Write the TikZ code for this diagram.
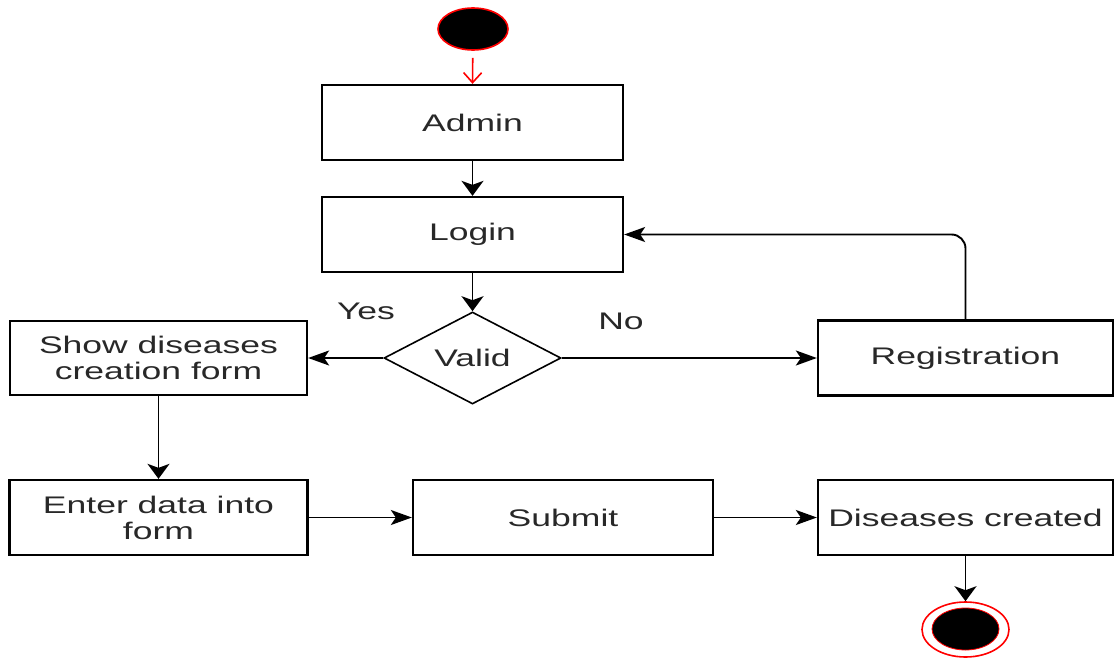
\documentclass[tikz,border=0pt]{standalone}
\usepackage{fontspec}
\setmainfont{Liberation Sans}[FakeStretch=1.48]
\usetikzlibrary{arrows.meta,shapes.geometric}
\definecolor{txt}{RGB}{40,40,40}
\definecolor{umlred}{RGB}{255,0,0}
\tikzset{
  box/.style={draw, line width=2.3pt, inner sep=0pt, align=center,
    text=txt, font=\fontsize{24}{26}\selectfont},
  lbl/.style={text=txt, font=\fontsize{24}{26}\selectfont, inner sep=0pt},
  harrow/.style={line width=1.9pt, -{Stealth[length=21pt, width=15pt, inset=5pt]}},
  varrow/.style={line width=1.9pt, -{Stealth[length=15pt, width=22pt, inset=4pt]}},
}
\begin{document}
\begin{tikzpicture}[x=1pt, y=-1pt]
\useasboundingbox (0,0) rectangle (1115,658);
% start
\node[ellipse, draw=umlred, fill=black, line width=1.6pt, minimum width=70pt, minimum height=42pt, inner sep=0pt] (start) at (473,29) {};
% boxes
\node[box, minimum width=301pt, minimum height=75pt] (admin) at (472.5,122.5) {Admin};
\node[box, minimum width=301pt, minimum height=75pt] (login) at (472.5,234.5) {Login};
\node[diamond, draw, line width=1.6pt, inner sep=0pt, aspect=1.9, minimum width=177pt, minimum height=92pt, text=txt, font=\fontsize{24}{26}\selectfont] (valid) at (472.5,358) {Valid};
\node[box, minimum width=297pt, minimum height=74pt] (show) at (158.5,358) {Show diseases\\creation form};
\node[box, minimum width=295pt, minimum height=75pt] (reg) at (965.5,358) {Registration};
\node[box, minimum width=298pt, minimum height=75pt] (enter) at (158.5,517.5) {Enter data into\\form};
\node[box, minimum width=300pt, minimum height=75pt] (submit) at (563,517.5) {Submit};
\node[box, minimum width=295pt, minimum height=75pt] (created) at (965.5,517.5) {Diseases created};
% end
\node[ellipse, draw=umlred, line width=1.6pt, minimum width=87pt, minimum height=55pt, inner sep=0pt] (endout) at (965.5,629.5) {};
\node[ellipse, draw=umlred, fill=black, line width=0.8pt, minimum width=67pt, minimum height=42pt, inner sep=0pt] (endin) at (965.5,629) {};
% labels
\node[lbl] (yes) at (366,311) {Yes};
\node[lbl] (no) at (621,321) {No};
% connectors
\draw[umlred, line width=1.6pt, shorten <=7pt, -{Straight Barb[length=10pt, width=18pt]}] (start) -- (admin.north);
\draw[varrow] (admin) -- (login);
\draw[varrow] (login) -- (valid.north);
\draw[harrow] (valid.west) -- (show.east);
\draw[harrow] (valid.east) -- (reg.west);
\draw[harrow, rounded corners=14pt] (reg.north) |- (login.east);
\draw[varrow] (show) -- (enter);
\draw[harrow] (enter) -- (submit);
\draw[harrow] (submit) -- (created);
\draw[varrow] (created) -- (endout.north);
\end{tikzpicture}
\end{document}
